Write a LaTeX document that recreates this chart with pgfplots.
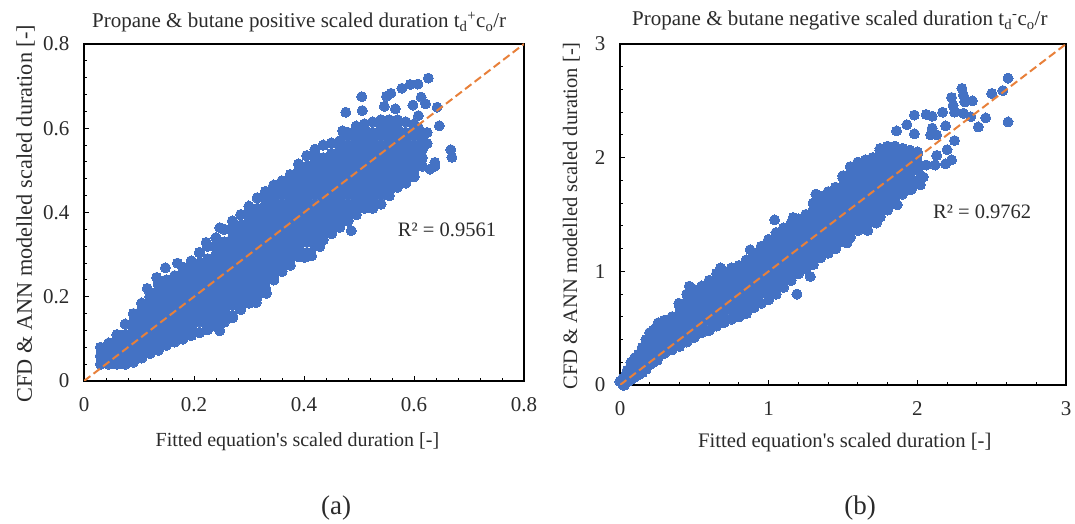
\documentclass[border=0pt]{standalone}
\usepackage{fontspec}
\setmainfont{Liberation Serif}
\newfontfamily\plainf{Liberation Serif}
\usepackage{pgfplots}
\pgfplotsset{compat=1.18}
\definecolor{ptblue}{HTML}{4472C4}
\definecolor{ptorange}{HTML}{E8803A}
\definecolor{txt}{HTML}{2B2B2B}
\pgfplotsset{
  chart/.style={
    scale only axis,
    tick align=inside, xtick pos=lower, ytick pos=left,
    major tick length=5pt, minor tick length=3pt,
    every tick/.style={black,line width=0.9pt},
    axis line style={black,line width=1.5pt},
    /pgf/number format/assume math mode=true,
    ticklabel style={font=\fontsize{21}{21}\selectfont,text=txt},
    title style={font=\fontsize{21}{22}\selectfont,text=txt,anchor=base},
    xticklabel style={yshift=-13pt},
    yticklabel style={xshift=-11pt},
  },
  core/.style={ptblue,only marks,mark=*,mark size=5.2pt,mark options={draw=ptblue,fill=ptblue,line width=0pt},forget plot},
  outl/.style={ptblue,only marks,mark=*,mark size=5pt,mark options={draw=ptblue,fill=ptblue,line width=0pt},forget plot},
  diag/.style={ptorange,line width=2pt,dash pattern=on 8pt off 4pt,no marks,forget plot},
}
\begin{document}
\begin{tikzpicture}[x=1pt,y=1pt]
\path[use as bounding box] (0,0) rectangle (1075,524);
\begin{axis}[chart,at={(84pt,143pt)},anchor=origin,width=440pt,height=337pt,
  xmin=0,xmax=0.8,ymin=0,ymax=0.8,
  xtick={0,0.2,0.4,0.6,0.8},ytick={0,0.2,0.4,0.6,0.8},
  xticklabels={0,0.2,0.4,0.6,0.8},yticklabels={0,0.2,0.4,0.6,0.8},
  minor x tick num=4,minor y tick num=4,
  title={Propane \& butane positive scaled duration t\textsubscript{d}\textsuperscript{+}c\textsubscript{o}/r},
  title style={at={(axis description cs:0.489,1)},yshift=10pt},
  xlabel={Fitted equation{\plainf '}s scaled duration [-]},
  xlabel style={font=\fontsize{20}{22}\selectfont,text=txt,at={(axis description cs:0.485,0)},anchor=base,yshift=-66pt},
  ylabel={CFD \& ANN modelled scaled duration [-]},
  ylabel style={font=\fontsize{22.3}{24}\selectfont,text=txt,at={(axis description cs:0,0.496)},anchor=base,yshift=52pt},
]
\addplot[core] coordinates {
(.03,.04)(.03,.06)(.03,.08)
(.045,.04)(.045,.05)(.045,.07)(.045,.09)
(.06,.04)(.06,.06)(.06,.08)(.06,.10)(.06,.11)
(.075,.04)(.075,.05)(.075,.07)(.075,.09)(.075,.11)(.075,.135)
(.09,.045)(.09,.06)(.09,.08)(.09,.10)(.09,.12)(.09,.14)(.09,.16)
(.105,.055)(.105,.07)(.105,.09)(.105,.11)(.105,.13)(.105,.15)(.105,.17)(.105,.185)
(.12,.065)(.12,.08)(.12,.10)(.12,.12)(.12,.14)(.12,.16)(.12,.18)(.12,.20)(.12,.21)
(.135,.073)(.135,.09)(.135,.11)(.135,.13)(.135,.15)(.135,.17)(.135,.19)(.135,.21)(.135,.23)
(.15,.085)(.15,.10)(.15,.12)(.15,.14)(.15,.16)(.15,.18)(.15,.20)(.15,.22)(.15,.24)
(.165,.093)(.165,.11)(.165,.13)(.165,.15)(.165,.17)(.165,.19)(.165,.21)(.165,.23)(.165,.25)
(.18,.10)(.18,.12)(.18,.14)(.18,.16)(.18,.18)(.18,.20)(.18,.22)(.18,.24)(.18,.26)(.18,.27)
(.195,.108)(.195,.13)(.195,.15)(.195,.17)(.195,.19)(.195,.21)(.195,.23)(.195,.25)(.195,.27)(.195,.285)
(.21,.115)(.21,.14)(.21,.16)(.21,.18)(.21,.20)(.21,.22)(.21,.24)(.21,.26)(.21,.28)(.21,.305)
(.225,.122)(.225,.13)(.225,.15)(.225,.17)(.225,.19)(.225,.21)(.225,.23)(.225,.25)(.225,.27)(.225,.29)(.225,.32)
(.24,.13)(.24,.14)(.24,.16)(.24,.18)(.24,.20)(.24,.22)(.24,.24)(.24,.26)(.24,.28)(.24,.30)(.24,.32)(.24,.34)
(.255,.14)(.255,.15)(.255,.17)(.255,.19)(.255,.21)(.255,.23)(.255,.25)(.255,.27)(.255,.29)(.255,.31)(.255,.33)(.255,.36)
(.27,.155)(.27,.18)(.27,.20)(.27,.22)(.27,.24)(.27,.26)(.27,.28)(.27,.30)(.27,.32)(.27,.34)(.27,.36)(.27,.38)
(.285,.17)(.285,.19)(.285,.21)(.285,.23)(.285,.25)(.285,.27)(.285,.29)(.285,.31)(.285,.33)(.285,.35)(.285,.37)(.285,.395)
(.30,.185)(.30,.20)(.30,.22)(.30,.24)(.30,.26)(.30,.28)(.30,.30)(.30,.32)(.30,.34)(.30,.36)(.30,.38)(.30,.40)(.30,.415)
(.315,.20)(.315,.21)(.315,.23)(.315,.25)(.315,.27)(.315,.29)(.315,.31)(.315,.33)(.315,.35)(.315,.37)(.315,.39)(.315,.41)(.315,.435)
(.33,.22)(.33,.24)(.33,.26)(.33,.28)(.33,.30)(.33,.32)(.33,.34)(.33,.36)(.33,.38)(.33,.40)(.33,.42)(.33,.44)(.33,.45)
(.345,.24)(.345,.25)(.345,.27)(.345,.29)(.345,.31)(.345,.33)(.345,.35)(.345,.37)(.345,.39)(.345,.41)(.345,.43)(.345,.45)(.345,.465)
(.36,.26)(.36,.28)(.36,.30)(.36,.32)(.36,.34)(.36,.36)(.36,.38)(.36,.40)(.36,.42)(.36,.44)(.36,.46)(.36,.475)
(.375,.275)(.375,.29)(.375,.31)(.375,.33)(.375,.35)(.375,.37)(.375,.39)(.375,.41)(.375,.43)(.375,.45)(.375,.47)(.375,.49)
(.39,.295)(.39,.30)(.39,.32)(.39,.34)(.39,.36)(.39,.38)(.39,.40)(.39,.42)(.39,.44)(.39,.46)(.39,.48)(.39,.50)(.39,.515)
(.405,.305)(.405,.33)(.405,.35)(.405,.37)(.405,.39)(.405,.41)(.405,.43)(.405,.45)(.405,.47)(.405,.49)(.405,.51)(.405,.535)
(.42,.32)(.42,.34)(.42,.36)(.42,.38)(.42,.40)(.42,.42)(.42,.44)(.42,.46)(.42,.48)(.42,.50)(.42,.52)(.42,.54)(.42,.55)
(.435,.335)(.435,.35)(.435,.37)(.435,.39)(.435,.41)(.435,.43)(.435,.45)(.435,.47)(.435,.49)(.435,.51)(.435,.53)(.435,.56)
(.45,.35)(.45,.36)(.45,.38)(.45,.40)(.45,.42)(.45,.44)(.45,.46)(.45,.48)(.45,.50)(.45,.52)(.45,.54)(.45,.565)
(.465,.365)(.465,.37)(.465,.39)(.465,.41)(.465,.43)(.465,.45)(.465,.47)(.465,.49)(.465,.51)(.465,.53)(.465,.55)(.465,.57)
(.48,.38)(.48,.40)(.48,.42)(.48,.44)(.48,.46)(.48,.48)(.48,.50)(.48,.52)(.48,.54)(.48,.56)(.48,.58)(.48,.59)
(.495,.395)(.495,.41)(.495,.43)(.495,.45)(.495,.47)(.495,.49)(.495,.51)(.495,.53)(.495,.55)(.495,.57)(.495,.59)(.495,.605)
(.51,.41)(.51,.42)(.51,.44)(.51,.46)(.51,.48)(.51,.50)(.51,.52)(.51,.54)(.51,.56)(.51,.58)(.51,.60)(.51,.61)
(.525,.41)(.525,.43)(.525,.45)(.525,.47)(.525,.49)(.525,.51)(.525,.53)(.525,.55)(.525,.57)(.525,.59)(.525,.615)
(.54,.42)(.54,.44)(.54,.46)(.54,.48)(.54,.50)(.54,.52)(.54,.54)(.54,.56)(.54,.58)(.54,.60)(.54,.62)
(.555,.44)(.555,.45)(.555,.47)(.555,.49)(.555,.51)(.555,.53)(.555,.55)(.555,.57)(.555,.59)(.555,.61)(.555,.62)
(.57,.46)(.57,.48)(.57,.50)(.57,.52)(.57,.54)(.57,.56)(.57,.58)(.57,.60)(.57,.62)
(.585,.47)(.585,.49)(.585,.51)(.585,.53)(.585,.55)(.585,.57)(.585,.59)(.585,.615)
(.60,.485)(.60,.50)(.60,.52)(.60,.54)(.60,.56)(.60,.58)(.60,.60)(.60,.61)
(.615,.51)(.615,.53)(.615,.55)(.615,.57)(.615,.59)
};
\addplot[outl] coordinates {
(.626,.719)(.607,.705)(.593,.704)(.578,.695)(.558,.683)(.55,.676)(.505,.675)(.476,.638)(.506,.642)(.546,.652)(.566,.646)(.598,.655)(.613,.674)(.621,.658)(.642,.65)(.646,.606)(.624,.59)(.624,.564)(.667,.549)(.669,.531)(.638,.519)(.638,.51)(.629,.503)(.47,.594)(.608,.63)(.608,.602)(.608,.535)(.6,.5)
(.486,.357)(.429,.319)(.414,.297)(.401,.293)(.332,.208)(.313,.186)(.247,.119)(.27,.15)(.148,.269)(.17,.28)(.132,.246)(.115,.22)(.222,.329)(.247,.364)
};
\node[font=\fontsize{20.5}{22}\selectfont,text=txt] at (axis cs:0.66,0.358) {R² = 0.9561};
\end{axis}
\begin{axis}[scale only axis,hide axis,at={(84pt,143pt)},anchor=origin,width=440pt,height=337pt,
  xmin=0,xmax=0.8,ymin=0,ymax=0.8]
\addplot[diag] coordinates {(0,0)(0.8,0.8)};
\end{axis}
\begin{axis}[chart,at={(620pt,139pt)},anchor=origin,width=446pt,height=341pt,
  xmin=0,xmax=3,ymin=0,ymax=3,
  xtick={0,1,2,3},ytick={0,1,2,3},
  minor x tick num=4,minor y tick num=4,
  title={Propane \& butane negative scaled duration t\textsubscript{d}\textsuperscript{-}c\textsubscript{o}/r},
  title style={at={(axis description cs:0.493,1)},yshift=12pt},
  xlabel={Fitted equation{\plainf '}s scaled duration [-]},
  xlabel style={font=\fontsize{20.7}{22}\selectfont,text=txt,at={(axis description cs:0.504,0)},anchor=base,yshift=-63pt},
  ylabel={CFD \& ANN modelled scaled duration [-]},
  ylabel style={font=\fontsize{20.5}{22}\selectfont,text=txt,at={(axis description cs:0,0.496)},anchor=base,yshift=43pt},
]
\addplot[core] coordinates {
(0,.03)(.02,0)(.02,.06)(.03,0)(.03,.04)(.04,.09)
(.05,.03)(.05,.08)(.05,.13)
(.075,.05)(.075,.10)(.075,.16)(.075,.20)
(.10,.07)(.10,.14)(.10,.21)(.10,.24)
(.125,.09)(.125,.15)(.125,.21)(.125,.27)
(.15,.11)(.15,.175)(.15,.245)(.15,.315)(.15,.33)
(.175,.14)(.175,.21)(.175,.28)(.175,.35)(.175,.40)
(.20,.18)(.20,.21)(.20,.28)(.20,.35)(.20,.42)(.20,.46)
(.225,.20)(.225,.26)(.225,.33)(.225,.40)(.225,.48)
(.25,.22)(.25,.245)(.25,.315)(.25,.385)(.25,.455)(.25,.52)
(.30,.28)(.30,.35)(.30,.42)(.30,.49)(.30,.56)(.30,.57)
(.35,.31)(.35,.385)(.35,.455)(.35,.525)(.35,.60)
(.40,.34)(.40,.42)(.40,.49)(.40,.56)(.40,.63)(.40,.70)
(.45,.38)(.45,.455)(.45,.525)(.45,.595)(.45,.665)(.45,.735)(.45,.80)
(.50,.42)(.50,.49)(.50,.56)(.50,.63)(.50,.70)(.50,.77)(.50,.84)
(.55,.46)(.55,.525)(.55,.595)(.55,.665)(.55,.735)(.55,.805)(.55,.87)
(.60,.48)(.60,.56)(.60,.63)(.60,.70)(.60,.77)(.60,.84)(.60,.91)(.60,.92)
(.65,.52)(.65,.595)(.65,.665)(.65,.735)(.65,.805)(.65,.875)(.65,.945)(.65,.98)
(.70,.55)(.70,.63)(.70,.70)(.70,.77)(.70,.84)(.70,.91)(.70,.98)(.70,1.0)
(.75,.58)(.75,.665)(.75,.735)(.75,.805)(.75,.875)(.75,.945)(.75,1.015)(.75,1.03)
(.80,.60)(.80,.63)(.80,.70)(.80,.77)(.80,.84)(.80,.91)(.80,.98)(.80,1.05)
(.85,.63)(.85,.665)(.85,.735)(.85,.805)(.85,.875)(.85,.945)(.85,1.015)(.85,1.085)(.85,1.10)
(.90,.68)(.90,.77)(.90,.84)(.90,.91)(.90,.98)(.90,1.05)(.90,1.12)(.90,1.16)
(.95,.72)(.95,.805)(.95,.875)(.95,.945)(.95,1.015)(.95,1.085)(.95,1.155)(.95,1.22)
(1.0,.75)(1.0,.84)(1.0,.91)(1.0,.98)(1.0,1.05)(1.0,1.12)(1.0,1.19)(1.0,1.26)(1.0,1.28)
(1.05,.80)(1.05,.875)(1.05,.945)(1.05,1.015)(1.05,1.085)(1.05,1.155)(1.05,1.225)(1.05,1.295)(1.05,1.34)
(1.10,.86)(1.10,.91)(1.10,.98)(1.10,1.05)(1.10,1.12)(1.10,1.19)(1.10,1.26)(1.10,1.33)(1.10,1.38)
(1.15,.92)(1.15,.945)(1.15,1.015)(1.15,1.085)(1.15,1.155)(1.15,1.225)(1.15,1.295)(1.15,1.365)(1.15,1.42)
(1.20,.98)(1.20,1.05)(1.20,1.12)(1.20,1.19)(1.20,1.26)(1.20,1.33)(1.20,1.40)(1.20,1.46)
(1.25,1.02)(1.25,1.085)(1.25,1.155)(1.25,1.225)(1.25,1.295)(1.25,1.365)(1.25,1.435)(1.25,1.50)
(1.30,1.06)(1.30,1.12)(1.30,1.19)(1.30,1.26)(1.30,1.33)(1.30,1.40)(1.30,1.47)(1.30,1.54)(1.30,1.60)
(1.35,1.12)(1.35,1.155)(1.35,1.225)(1.35,1.295)(1.35,1.365)(1.35,1.435)(1.35,1.505)(1.35,1.575)(1.35,1.645)(1.35,1.66)
(1.40,1.16)(1.40,1.19)(1.40,1.26)(1.40,1.33)(1.40,1.40)(1.40,1.47)(1.40,1.54)(1.40,1.61)(1.40,1.68)(1.40,1.70)
(1.45,1.2)(1.45,1.225)(1.45,1.295)(1.45,1.365)(1.45,1.435)(1.45,1.505)(1.45,1.575)(1.45,1.645)(1.45,1.715)(1.45,1.74)
(1.50,1.26)(1.50,1.33)(1.50,1.40)(1.50,1.47)(1.50,1.54)(1.50,1.61)(1.50,1.68)(1.50,1.75)(1.50,1.82)(1.50,1.84)
(1.55,1.3)(1.55,1.365)(1.55,1.435)(1.55,1.505)(1.55,1.575)(1.55,1.645)(1.55,1.715)(1.55,1.785)(1.55,1.855)(1.55,1.92)
(1.60,1.36)(1.60,1.40)(1.60,1.47)(1.60,1.54)(1.60,1.61)(1.60,1.68)(1.60,1.75)(1.60,1.82)(1.60,1.89)(1.60,1.96)
(1.65,1.40)(1.65,1.435)(1.65,1.505)(1.65,1.575)(1.65,1.645)(1.65,1.715)(1.65,1.785)(1.65,1.855)(1.65,1.925)(1.65,1.98)
(1.70,1.44)(1.70,1.47)(1.70,1.54)(1.70,1.61)(1.70,1.68)(1.70,1.75)(1.70,1.82)(1.70,1.89)(1.70,1.96)(1.70,2.00)
(1.75,1.48)(1.75,1.505)(1.75,1.575)(1.75,1.645)(1.75,1.715)(1.75,1.785)(1.75,1.855)(1.75,1.925)(1.75,1.995)(1.75,2.065)(1.75,2.08)
(1.80,1.54)(1.80,1.61)(1.80,1.68)(1.80,1.75)(1.80,1.82)(1.80,1.89)(1.80,1.96)(1.80,2.03)(1.80,2.10)
(1.85,1.6)(1.85,1.645)(1.85,1.715)(1.85,1.785)(1.85,1.855)(1.85,1.925)(1.85,1.995)(1.85,2.065)(1.85,2.10)
(1.90,1.68)(1.90,1.75)(1.90,1.82)(1.90,1.89)(1.90,1.96)(1.90,2.03)(1.90,2.08)
(1.95,1.72)(1.95,1.785)(1.95,1.855)(1.95,1.925)(1.95,1.995)(1.95,2.065)
(2.0,1.8)(2.0,1.89)(2.0,1.96)(2.0,2.03)(2.0,2.05)
};
\addplot[outl] coordinates {
(2.61,2.70)(2.575,2.59)(2.5,2.565)(2.61,2.315)(2.46,2.35)(2.41,2.27)(2.30,2.61)(2.23,2.53)(2.31,2.55)(2.37,2.5)(2.24,2.46)(2.32,2.49)(2.25,2.40)(2.31,2.39)(2.36,2.36)(2.17,2.40)(2.06,2.38)(2.10,2.365)(1.98,2.375)(2.19,2.28)(2.10,2.26)(2.13,2.2)(2.09,2.2)(2.25,2.15)(2.2,2.07)(2.23,1.98)(2.19,1.945)(2.13,2.02)(2.12,1.935)(2.06,1.935)(2.04,1.83)(2.02,1.76)(1.93,2.29)(1.86,2.235)(1.98,2.21)(1.19,.80)(1.04,1.453)(.875,1.19)(.466,.87)(.676,1.03)(.396,.72)(.256,.547)(1.317,1.68)(1.165,1.474)(1.28,.955)(1.667,1.36)(2.0,1.91)(1.96,1.72)(1.865,1.585)(1.725,1.425)(1.527,1.25)
};
\node[font=\fontsize{20.5}{22}\selectfont,text=txt] at (axis cs:2.436,1.526) {R² = 0.9762};
\end{axis}
\begin{axis}[scale only axis,hide axis,at={(620pt,139pt)},anchor=origin,width=446pt,height=341pt,
  xmin=0,xmax=3,ymin=0,ymax=3]
\addplot[diag] coordinates {(0,0)(3,3)};
\end{axis}
\node[font=\fontsize{27}{28}\selectfont,text=txt] at (336,16) {(a)};
\node[font=\fontsize{27}{28}\selectfont,text=txt] at (860,16) {(b)};
\end{tikzpicture}
\end{document}
